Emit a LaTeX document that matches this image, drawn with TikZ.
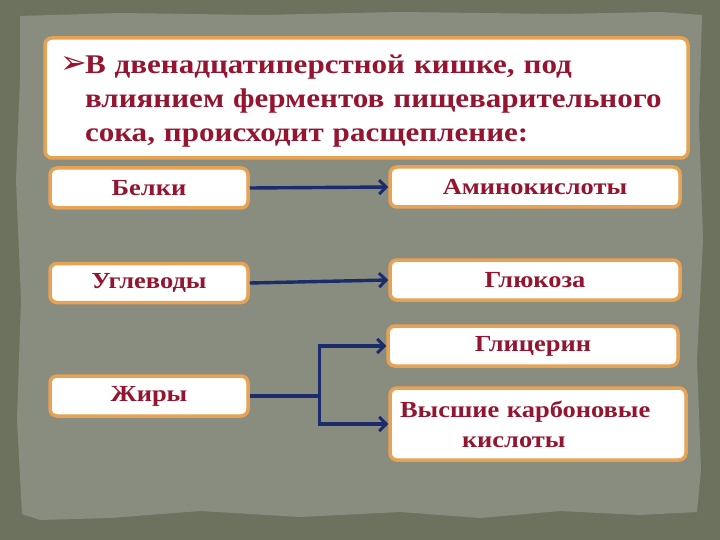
\documentclass[tikz,border=0pt]{standalone}
\usepackage{fontspec}
\setmainfont{Liberation Serif}
\newfontfamily\hfont{Liberation Serif Bold}[FakeStretch=1.15]
\newfontfamily\symfont{DejaVu Sans}
\usetikzlibrary{arrows.meta}
\definecolor{bgdark}{HTML}{6C725E}
\definecolor{paper}{HTML}{898D80}
\definecolor{boxline}{HTML}{E8A253}
\definecolor{txt}{HTML}{941530}
\definecolor{arr}{HTML}{1C2B6B}
\tikzset{
  box/.style={draw=boxline, line width=3.5pt, fill=white, rounded corners=7pt,
    inner sep=0pt, font=\hfont\fontsize{23}{30}\selectfont, text=txt},
  link/.style={draw=arr, line width=3.4pt, -{Straight Barb[length=7pt,width=14pt,line width=3pt]}},
  plain/.style={draw=arr, line width=3.4pt}
}
\begin{document}
\begin{tikzpicture}[x=1pt,y=-1pt]
\useasboundingbox (0,0) rectangle (720,540);
\fill[bgdark] (0,0) rectangle (720,540);
\fill[paper] (20,16) -- (120,13) -- (260,15) -- (400,12) -- (560,14) -- (660,12) -- (702,15)
  -- (699,120) -- (703,240) -- (697,360) -- (701,470) -- (697,512)
  -- (640,515) -- (560,511) -- (480,518) -- (400,512) -- (300,517) -- (200,511) -- (110,518) -- (40,520) -- (22,514)
  -- (17,420) -- (21,300) -- (16,180) -- (20,80) -- cycle;

\node[box, minimum width=643pt, minimum height=120pt, text width=613pt, align=left,
  font=\hfont\fontsize{27}{34}\selectfont] (head) at (366.5,98)
  {\rule{0pt}{25pt}\makebox[25pt][l]{\symfont\fontsize{32}{34}\selectfont ➢}В двенадцатиперстной кишке, под\\
   \hspace*{25pt}влиянием ферментов пищеварительного\\
   \hspace*{25pt}сока, происходит расщепление:};

\node[box, minimum width=198pt, minimum height=40pt] (belki) at (149,188) {Белки};
\node[box, minimum width=290pt, minimum height=40pt] (amino) at (535,187) {Аминокислоты};
\node[box, minimum width=198pt, minimum height=39pt] (uglev) at (149,283) {Углеводы};
\node[box, minimum width=290pt, minimum height=40pt] (gluk) at (535,280) {Глюкоза};
\node[box, minimum width=290pt, minimum height=40pt] (glic) at (533,346) {Глицерин};
\node[box, minimum width=198pt, minimum height=40pt] (zhiry) at (149,396) {Жиры};
\node[box, minimum width=296pt, minimum height=72pt, text width=276pt, align=left] (vys) at (538,424)
  {Высшие карбоновые\\\hspace*{62pt}кислоты};

\draw[link] (belki.east) -- (amino.west);
\draw[link] (uglev.east) -- (gluk.west);
\draw[plain] (zhiry.east) -- ++(70,0) coordinate (j);
\draw[link] (j) |- (glic.west);
\draw[link] (j) |- (vys.west);
\end{tikzpicture}
\end{document}
